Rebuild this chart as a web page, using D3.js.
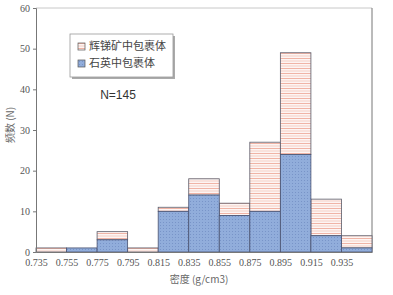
<!DOCTYPE html>
<html>
<head>
<meta charset="utf-8">
<script src="https://cdn.jsdelivr.net/npm/d3@7"></script>
<style>
  body { margin: 0; background: #fff; }
  text { font-family: "Liberation Serif", "DejaVu Serif", serif; }
</style>
</head>
<body>
<div id="chart"></div>
<script>
// bin edges (g/cm3) and counts per bin
const binStarts = [0.735, 0.755, 0.775, 0.795, 0.815, 0.835, 0.855, 0.875, 0.895, 0.915, 0.935];
const binWidth = 0.02;
const quartz = [0, 1, 3, 0, 10, 14, 9, 10, 24, 4, 1];     // 石英中包裹体
const stibnite = [1, 0, 2, 1, 1, 4, 3, 17, 25, 9, 3];     // 辉锑矿中包裹体
const xTickLabels = ["0.735", "0.755", "0.775", "0.795", "0.815", "0.835", "0.855", "0.875", "0.895", "0.915", "0.935"];
const yTicks = [0, 10, 20, 30, 40, 50, 60];
const seriesNames = ["辉锑矿中包裹体", "石英中包裹体"];

const W = 393, H = 295;
const margin = { top: 8, right: 21, bottom: 43, left: 36 },
      width = W - margin.left - margin.right,
      height = H - margin.top - margin.bottom;

const root = d3.select("#chart").append("svg")
    .attr("width", W)
    .attr("height", H);

// patterns: hatched pink for stibnite, dotted blue for quartz
const defs = root.append("defs");
const pPink = defs.append("pattern")
    .attr("id", "pink").attr("patternUnits", "userSpaceOnUse")
    .attr("width", 6).attr("height", 5);
pPink.append("rect").attr("width", 6).attr("height", 5).attr("fill", "#fdf5f3");
pPink.append("rect").attr("y", 0).attr("width", 6).attr("height", 1).attr("fill", "#f0b4a6");
pPink.append("rect").attr("y", 2.5).attr("width", 6).attr("height", 1).attr("fill", "#f6d0c6");

const pBlue = defs.append("pattern")
    .attr("id", "blue").attr("patternUnits", "userSpaceOnUse")
    .attr("width", 3).attr("height", 3);
pBlue.append("rect").attr("width", 3).attr("height", 3).attr("fill", "#91addb");
pBlue.append("rect").attr("x", 1).attr("y", 1).attr("width", 1).attr("height", 1).attr("fill", "#7894c8");

const svg = root.append("g")
    .attr("transform", `translate(${margin.left},${margin.top})`);

const x = d3.scaleLinear()
    .domain([binStarts[0], binStarts[binStarts.length - 1] + binWidth])
    .range([0, width]);

const y = d3.scaleLinear()
    .domain([0, 60])
    .range([height, 0]);

// frame (top + right)
svg.append("line").attr("x1", 0).attr("x2", width).attr("y1", 0).attr("y2", 0)
    .attr("stroke", "#c8c8c8");
svg.append("line").attr("x1", width).attr("x2", width).attr("y1", 0).attr("y2", height)
    .attr("stroke", "#777");

const bins = binStarts.map((b, i) => ({ x0: b, q: quartz[i], s: stibnite[i] }));

// stibnite stacked on top of quartz
svg.selectAll(".total")
    .data(bins.filter(d => d.s > 0))
    .enter().append("rect")
    .attr("x", d => x(d.x0))
    .attr("width", d => x(d.x0 + binWidth) - x(d.x0))
    .attr("y", d => y(d.q + d.s))
    .attr("height", d => y(d.q) - y(d.q + d.s))
    .attr("fill", "url(#pink)")
    .attr("stroke", "#5a5a68")
    .attr("stroke-width", 0.8);

svg.selectAll(".quartz")
    .data(bins.filter(d => d.q > 0))
    .enter().append("rect")
    .attr("x", d => x(d.x0))
    .attr("width", d => x(d.x0 + binWidth) - x(d.x0))
    .attr("y", d => y(d.q))
    .attr("height", d => y(0) - y(d.q))
    .attr("fill", "url(#blue)")
    .attr("stroke", "#4a5270")
    .attr("stroke-width", 0.8);

// axes
const yAxis = svg.append("g")
    .call(d3.axisLeft(y).tickValues(yTicks).tickSize(3).tickPadding(3));
yAxis.select(".domain").attr("stroke", "#777");
yAxis.selectAll(".tick line").attr("stroke", "#777");
yAxis.selectAll("text").attr("fill", "#555").style("font-size", "10px");

const xAxis = svg.append("g")
    .attr("transform", `translate(0,${height})`)
    .call(d3.axisBottom(x).tickValues(binStarts)
        .tickFormat((d, i) => xTickLabels[i]).tickSizeOuter(0).tickSize(0).tickPadding(7));
xAxis.select(".domain").attr("stroke", "#777");
xAxis.selectAll("text").attr("fill", "#555").style("font-size", "10px");

// axis labels
svg.append("text")
    .attr("transform", "rotate(-90)")
    .attr("x", -117)
    .attr("y", -22)
    .style("text-anchor", "middle")
    .style("font-family", "'Noto Sans CJK SC', sans-serif")
    .style("font-size", "10px")
    .attr("fill", "#666")
    .text("频数 (N)");

svg.append("text")
    .attr("x", width / 2 - 5)
    .attr("y", height + 31)
    .style("text-anchor", "middle")
    .style("font-family", "'Noto Sans CJK SC', sans-serif")
    .style("font-size", "10px")
    .attr("fill", "#666")
    .text("密度 (g/cm3)");

// legend
const legend = svg.append("g").attr("transform", "translate(34,26)");
legend.append("rect").attr("x", 2).attr("y", 2).attr("width", 103).attr("height", 43)
    .attr("fill", "#aaa");
legend.append("rect").attr("width", 103).attr("height", 43)
    .attr("fill", "#fff").attr("stroke", "#999").attr("stroke-width", 0.8);
["url(#pink)", "url(#blue)"].forEach((f, i) => {
    const row = legend.append("g").attr("transform", `translate(8,${9 + i * 17})`);
    row.append("rect").attr("width", 7).attr("height", 7)
        .attr("fill", f).attr("stroke", "#555").attr("stroke-width", 0.7);
    row.append("text")
        .attr("x", 11).attr("y", 7)
        .style("font-family", "'Noto Sans CJK SC', sans-serif")
        .style("font-size", "11px")
        .attr("fill", "#444")
        .text(seriesNames[i]);
});

svg.append("text")
    .attr("x", 82)
    .attr("y", 91)
    .style("text-anchor", "middle")
    .style("font-family", "Arial, 'Liberation Sans', sans-serif")
    .style("font-size", "12px")
    .attr("fill", "#333")
    .text("N=145");
</script>
</body>
</html>
